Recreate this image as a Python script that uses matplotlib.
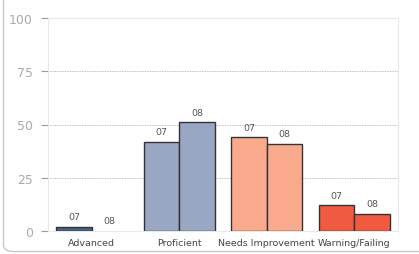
import matplotlib
matplotlib.use("Agg")
import matplotlib.pyplot as plt
import numpy as np
from matplotlib.patches import FancyBboxPatch

categories = ["Advanced", "Proficient", "Needs Improvement", "Warning/Failing"]
series_labels = ["07", "08"]
values_07 = [2, 42, 44, 12]
values_08 = [0, 51, 41, 8]
colors = ["#4a6282", "#9aa7c3", "#f9aa8d", "#f05a40"]
yticks = [0, 25, 50, 75, 100]

fig = plt.figure(figsize=(4.19, 2.55), dpi=100)
fig.patch.set_facecolor("white")

# outer rounded border (partially visible)
border = FancyBboxPatch((3.5 / 419, 1 - 252.5 / 255), 1.2, 1.2,
                        boxstyle="round,pad=0,rounding_size=0.025",
                        transform=fig.transFigure, fill=False,
                        edgecolor="#c8c8c8", linewidth=1.0)
fig.patches.append(border)

ax = fig.add_axes([48 / 419, 1 - 232 / 255, 350 / 419, 213 / 255])
x = np.arange(len(categories))
w = 0.405
b1 = ax.bar(x - w / 2, values_07, w, color=colors, edgecolor="#333333", linewidth=1.0, zorder=3)
b2 = ax.bar(x + w / 2, values_08, w, color=colors, edgecolor="#333333", linewidth=1.0, zorder=3)

for bars, lab in ((b1, series_labels[0]), (b2, series_labels[1])):
    for r in bars:
        if r.get_height() == 0:
            r.set_linewidth(0)
        ax.annotate(lab, (r.get_x() + r.get_width() / 2, r.get_height()),
                    xytext=(0, 4), textcoords="offset points",
                    ha="center", va="bottom", fontsize=6.8, color="#555555")

ax.set_xlim(-0.5, len(categories) - 0.5)
ax.set_ylim(0, 100)
ax.set_yticks(yticks)
ax.set_yticklabels([str(t) for t in yticks], fontsize=9, color="#aaaaaa")
ax.set_xticks(x)
ax.set_xticklabels(categories, fontsize=6.8, color="#444444")
ax.tick_params(axis="x", length=0, pad=5)
ax.tick_params(axis="y", length=5, width=0.8, color="#999999", pad=6)

for t in [25, 50, 75]:
    ax.axhline(t, color="#aaaaaa", linestyle=(0, (1, 1)), linewidth=0.6, zorder=1)

for s in ax.spines.values():
    s.set_color("#e8e8e8")
    s.set_linewidth(0.8)

fig.savefig("out.png", dpi=100)
